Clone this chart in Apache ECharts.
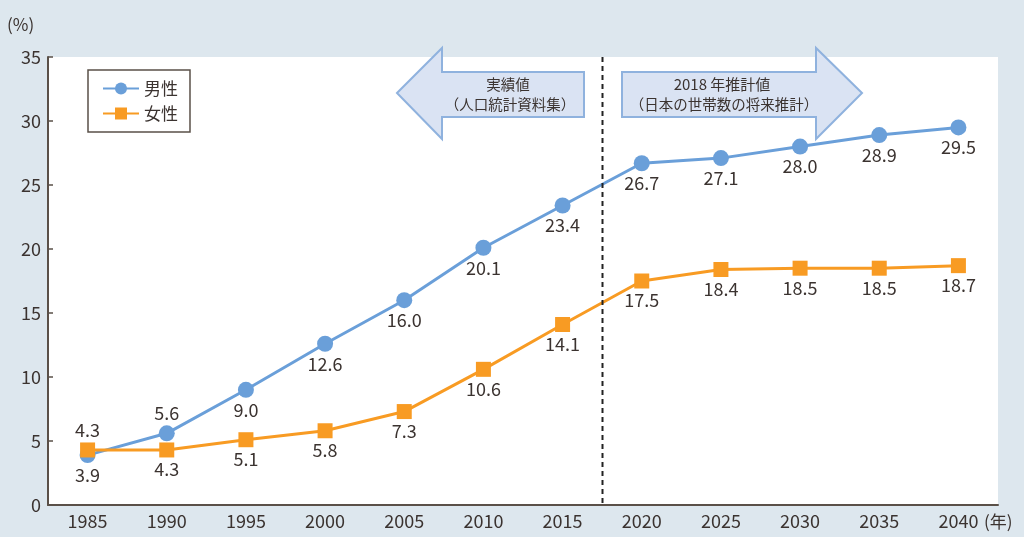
<!DOCTYPE html>
<html>
<head>
<meta charset="utf-8">
<script src="https://cdn.jsdelivr.net/npm/echarts@6/dist/echarts.min.js"></script>
<style>
    html, body { margin: 0; padding: 0; background: #dde7ee; }
    #chart { width: 1024px; height: 537px; }
</style>
</head>
<body>
<div id="chart"></div>
<script>
const years = ['1985', '1990', '1995', '2000', '2005', '2010', '2015', '2020', '2025', '2030', '2035', '2040']
const maleValues = [3.9, 5.6, 9.0, 12.6, 16.0, 20.1, 23.4, 26.7, 27.1, 28.0, 28.9, 29.5]
const femaleValues = [4.3, 4.3, 5.1, 5.8, 7.3, 10.6, 14.1, 17.5, 18.4, 18.5, 18.5, 18.7]
const maleLabelTop = [1]      // indexes whose label sits above the point
const femaleLabelTop = [0]

const textColor = '#3b3330'
const axisColor = '#5a5048'
const font = "'Noto Sans CJK JP', 'Noto Sans', sans-serif"

const toData = (values, topIdx) => values.map((v, i) => ({
    value: v,
    label: { position: topIdx.includes(i) ? 'top' : 'bottom' }
}))

const myChart = echarts.init(document.getElementById('chart'))

myChart.setOption({
    backgroundColor: '#dde7ee',
    textStyle: { fontFamily: font, color: textColor },
    grid: {
        left: 48, right: 26, top: 57, bottom: 32,
        show: true, backgroundColor: '#ffffff', borderWidth: 0
    },
    legend: {
        orient: 'vertical',
        left: 88, top: 70,
        padding: [10, 12, 10, 14],
        itemGap: 8,
        itemWidth: 36,
        itemHeight: 15,
        borderColor: axisColor,
        borderWidth: 1.5,
        backgroundColor: '#ffffff',
        textStyle: { fontSize: 17, color: textColor, fontFamily: font },
        data: ['男性', '女性']
    },
    xAxis: {
        type: 'category',
        data: years,
        boundaryGap: true,
        axisLine: { lineStyle: { color: axisColor, width: 2 } },
        axisTick: { inside: true, length: 6, lineStyle: { color: axisColor, width: 1.5 } },
        axisLabel: { fontSize: 18, color: textColor, margin: 7, fontFamily: font }
    },
    yAxis: {
        type: 'value',
        min: 0, max: 35, interval: 5,
        axisLine: { show: true, lineStyle: { color: axisColor, width: 2 } },
        axisTick: { show: true, inside: true, length: 5, lineStyle: { color: axisColor, width: 1.5 } },
        axisLabel: { fontSize: 18, color: textColor, margin: 7, fontFamily: font },
        splitLine: { show: false }
    },
    series: [{
        name: '男性',
        type: 'line',
        data: toData(maleValues, maleLabelTop),
        symbol: 'circle',
        symbolSize: 16,
        lineStyle: { color: '#6a9fd9', width: 3 },
        itemStyle: { color: '#6a9fd9' },
        label: {
            show: true, fontSize: 18, color: textColor, distance: 3, fontFamily: font,
            formatter: p => p.value.toFixed(1)
        }
    }, {
        name: '女性',
        type: 'line',
        data: toData(femaleValues, femaleLabelTop),
        symbol: 'rect',
        symbolSize: 15,
        lineStyle: { color: '#f89b23', width: 3 },
        itemStyle: { color: '#f89b23' },
        label: {
            show: true, fontSize: 18, color: textColor, distance: 3, fontFamily: font,
            formatter: p => p.value.toFixed(1)
        }
    }]
})

// divider between actual and projected values
const x2015 = myChart.convertToPixel({ xAxisIndex: 0 }, '2015')
const x2020 = myChart.convertToPixel({ xAxisIndex: 0 }, '2020')
const divX = Math.round((x2015 + x2020) / 2) + 0.5
const yTop = myChart.convertToPixel({ yAxisIndex: 0 }, 35)
const yBottom = myChart.convertToPixel({ yAxisIndex: 0 }, 0)

const arrowStyle = { fill: '#dae3f3', stroke: '#8fb2de', lineWidth: 2 }
const noteFont = '14.5px ' + font

myChart.setOption({
    graphic: [
        {
            type: 'line', z: 5,
            shape: { x1: divX, y1: yTop, x2: divX, y2: yBottom },
            style: { stroke: '#222', lineWidth: 2, lineDash: [5, 4] }
        },
        {
            type: 'polygon', z: 10,
            shape: { points: [[397, 93], [442, 48], [442, 72], [584, 72], [584, 117], [442, 117], [442, 139]] },
            style: arrowStyle
        },
        {
            type: 'polygon', z: 10,
            shape: { points: [[862, 93], [816, 48], [816, 72], [622, 72], [622, 117], [816, 117], [816, 139]] },
            style: arrowStyle
        },
        {
            type: 'text', z: 11, x: 508, y: 84,
            style: { text: '実績値', fill: textColor, font: noteFont, align: 'center', verticalAlign: 'middle' }
        },
        {
            type: 'text', z: 11, x: 510, y: 104,
            style: { text: '（人口統計資料集）', fill: textColor, font: noteFont, align: 'center', verticalAlign: 'middle' }
        },
        {
            type: 'text', z: 11, x: 722, y: 84,
            style: { text: '2018 年推計値', fill: textColor, font: '15px ' + font, align: 'center', verticalAlign: 'middle' }
        },
        {
            type: 'text', z: 11, x: 724, y: 104,
            style: { text: '（日本の世帯数の将来推計）', fill: textColor, font: noteFont, align: 'center', verticalAlign: 'middle' }
        },
        {
            type: 'text', x: 7, y: 25,
            style: { text: '(%)', fill: textColor, font: '17px ' + font, verticalAlign: 'middle' }
        },
        {
            type: 'text', x: 984, y: 522,
            style: { text: '(年)', fill: textColor, font: '17px ' + font, verticalAlign: 'middle' }
        }
    ]
})
</script>
</body>
</html>
